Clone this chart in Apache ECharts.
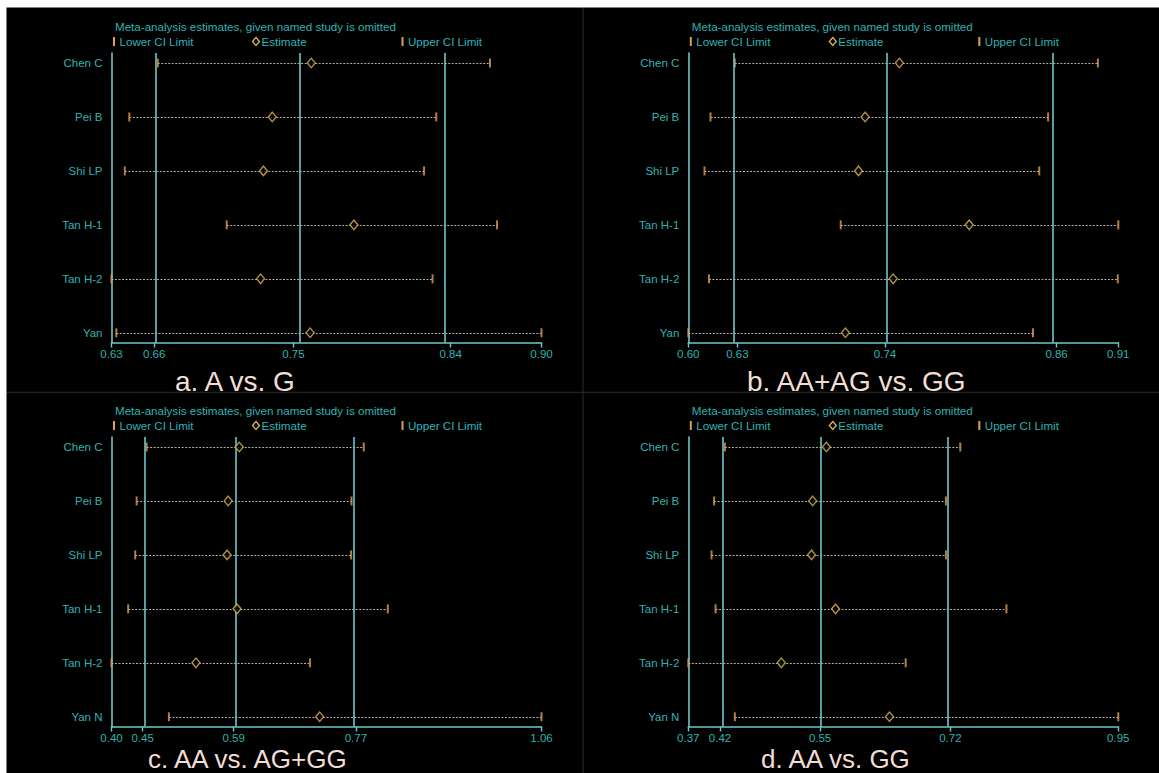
<!DOCTYPE html>
<html>
<head>
<meta charset="utf-8">
<script src="https://cdn.jsdelivr.net/npm/echarts@6/dist/echarts.min.js"></script>
<style>
  html, body { margin: 0; padding: 0; background: #000; }
  #chart { width: 1159px; height: 773px; }
</style>
</head>
<body>
<div id="chart"></div>
<script>
// Study names (rows, top to bottom)
const studiesAB = ['Chen C', 'Pei B', 'Shi LP', 'Tan H-1', 'Tan H-2', 'Yan'];
const studiesCD = ['Chen C', 'Pei B', 'Shi LP', 'Tan H-1', 'Tan H-2', 'Yan N'];

// a. A vs. G
const lowerA = [0.6613, 0.6436, 0.6408, 0.7043, 0.6325, 0.6355];
const estA   = [0.7570, 0.7327, 0.7272, 0.7836, 0.7254, 0.7563];
const upperA = [0.8684, 0.8349, 0.8273, 0.8728, 0.8326, 0.9005];
const overallA = [0.6591, 0.7459, 0.8439];   // pooled lower CI, estimate, upper CI

// b. AA+AG vs. GG
const lowerB = [0.6305, 0.6130, 0.6087, 0.7069, 0.6119, 0.5970];
const estB   = [0.7492, 0.7245, 0.7197, 0.7995, 0.7447, 0.7103];
const upperB = [0.8923, 0.8564, 0.8500, 0.9070, 0.9066, 0.8455];
const overallB = [0.6324, 0.7388, 0.8625];

// c. AA vs. AG+GG
const lowerC = [0.4533, 0.4380, 0.4358, 0.4250, 0.3995, 0.4873];
const estC   = [0.5950, 0.5780, 0.5763, 0.5916, 0.5287, 0.7180];
const upperC = [0.7855, 0.7668, 0.7662, 0.8223, 0.7033, 1.0575];
const overallC = [0.4471, 0.5865, 0.7735];

// d. AA vs. GG
const lowerD = [0.4224, 0.4080, 0.4046, 0.4100, 0.3735, 0.4357];
const estD   = [0.5581, 0.5398, 0.5383, 0.5704, 0.4979, 0.6425];
const upperD = [0.7372, 0.7180, 0.7180, 0.7989, 0.6642, 0.9485];
const overallD = [0.4159, 0.5497, 0.7239];

const captions = ['a. A vs. G', 'b. AA+AG vs. GG', 'c. AA vs. AG+GG', 'd. AA vs. GG'];
const headerText = 'Meta-analysis estimates, given named study is omitted';
const legendLabels = ['Lower CI Limit', 'Estimate', 'Upper CI Limit'];

const FONT = '"Liberation Sans", Arial, sans-serif';
const TEAL_TEXT = '#2fb2b4';
const TEAL_LINE = '#70c6c8';
const CI_ORANGE = '#dd9f52';
const EST_GOLD = '#d9b451';
const DOT_COLOR = '#c4c4b4';
const CAPTION_COLOR = '#f2ddd4';

const panels = [
  { names: studiesAB, lower: lowerA, est: estA, upper: upperA, overall: overallA,
    left: 111.5, top: 53, capX: 175, capY: 381, capSize: 28 },
  { names: studiesAB, lower: lowerB, est: estB, upper: upperB, overall: overallB,
    left: 688.3, top: 53, capX: 747, capY: 381, capSize: 28 },
  { names: studiesCD, lower: lowerC, est: estC, upper: upperC, overall: overallC,
    left: 111.5, top: 437, capX: 148, capY: 759, capSize: 26 },
  { names: studiesCD, lower: lowerD, est: estD, upper: upperD, overall: overallD,
    left: 688.3, top: 437, capX: 761, capY: 759, capSize: 26 }
];

const PLOT_W = 430;
const PLOT_H = 289.5;

const grids = [], xAxes = [], yAxes = [], series = [], graphics = [];

// page frame: light strip at top and left, thin dividers between panels
graphics.push({ type: 'rect', shape: { x: 0, y: 0, width: 1159, height: 7.5 }, style: { fill: '#ffffff' }, z: 10 });
graphics.push({ type: 'rect', shape: { x: 0, y: 0, width: 6.5, height: 773 }, style: { fill: '#ffffff' }, z: 10 });
graphics.push({ type: 'line', shape: { x1: 6.5, y1: 392.3, x2: 1159, y2: 392.3 }, style: { stroke: '#2c2c2c', lineWidth: 1 }, z: 1 });
graphics.push({ type: 'line', shape: { x1: 583, y1: 7.5, x2: 583, y2: 773 }, style: { stroke: '#2c2c2c', lineWidth: 1 }, z: 1 });

panels.forEach((p, k) => {
  const xMin = Math.min(...p.lower);
  const xMax = Math.max(...p.upper);
  const tickVals = [xMin, p.overall[0], p.overall[1], p.overall[2], xMax];
  const rows = p.names.map((_, i) => i + 1);

  grids.push({ left: p.left, top: p.top, width: PLOT_W, height: PLOT_H, containLabel: false });

  xAxes.push({
    type: 'value', gridIndex: k, min: xMin, max: xMax,
    axisLine: { show: true, lineStyle: { color: TEAL_LINE, width: 1.6 } },
    axisTick: { show: true, customValues: tickVals, length: 5, lineStyle: { color: TEAL_LINE, width: 1.4 } },
    axisLabel: {
      customValues: tickVals, margin: 5, color: TEAL_TEXT, fontFamily: FONT, fontSize: 11.5,
      lineHeight: 12, formatter: v => v.toFixed(2)
    },
    splitLine: { show: false }
  });

  yAxes.push({
    type: 'value', gridIndex: k, inverse: true, min: 0.815, max: 6.18,
    axisLine: { show: true, lineStyle: { color: TEAL_LINE, width: 1.6 } },
    axisTick: { show: false },
    axisLabel: {
      customValues: rows, margin: 9, color: TEAL_TEXT, fontFamily: FONT, fontSize: 11.5,
      formatter: v => p.names[Math.round(v) - 1]
    },
    splitLine: { show: false }
  });

  // dotted span from lower to upper limit for each omitted study
  series.push({
    type: 'lines', coordinateSystem: 'cartesian2d', xAxisIndex: k, yAxisIndex: k,
    silent: true, z: 2, animation: false,
    lineStyle: { color: DOT_COLOR, width: 1, type: [2, 1.5], opacity: 0.9 },
    data: rows.map((r, i) => ({ coords: [[p.lower[i], r], [p.upper[i], r]] })),
    // pooled estimate and its CI as full-height reference lines
    markLine: {
      silent: true, symbol: ['none', 'none'], label: { show: false },
      lineStyle: { color: TEAL_LINE, width: 1.6, type: 'solid' },
      data: p.overall.map(v => ({ xAxis: v }))
    }
  });

  // lower CI caps
  series.push({
    type: 'scatter', xAxisIndex: k, yAxisIndex: k, z: 4, animation: false, silent: true,
    symbol: 'rect', symbolSize: [2, 9],
    itemStyle: { color: CI_ORANGE },
    data: rows.map((r, i) => [p.lower[i], r])
  });
  // upper CI caps
  series.push({
    type: 'scatter', xAxisIndex: k, yAxisIndex: k, z: 4, animation: false, silent: true,
    symbol: 'rect', symbolSize: [2, 9],
    itemStyle: { color: CI_ORANGE },
    data: rows.map((r, i) => [p.upper[i], r])
  });
  // estimates as hollow diamonds
  series.push({
    type: 'scatter', xAxisIndex: k, yAxisIndex: k, z: 5, animation: false, silent: true,
    symbol: 'diamond', symbolSize: [8, 9.5],
    itemStyle: { color: '#000000', borderColor: EST_GOLD, borderWidth: 1.4 },
    data: rows.map((r, i) => [p.est[i], r])
  });

  // header and legend above each plot
  const hy = p.top - 27;
  const ly = p.top - 11.5;
  graphics.push({ type: 'text', x: p.left + 3.5, y: hy,
    style: { text: headerText, fill: TEAL_TEXT, font: '11.6px ' + FONT, verticalAlign: 'middle' } });
  graphics.push({ type: 'rect', shape: { x: p.left + 1.5, y: ly - 4.5, width: 2, height: 9 }, style: { fill: CI_ORANGE } });
  graphics.push({ type: 'text', x: p.left + 8, y: ly,
    style: { text: legendLabels[0], fill: TEAL_TEXT, font: '11.6px ' + FONT, verticalAlign: 'middle' } });
  const dx = p.left + 144.5;
  graphics.push({ type: 'polygon', shape: { points: [[dx, ly - 4], [dx + 3.5, ly], [dx, ly + 4], [dx - 3.5, ly]] },
    style: { fill: '#000', stroke: EST_GOLD, lineWidth: 1.3 } });
  graphics.push({ type: 'text', x: p.left + 150, y: ly,
    style: { text: legendLabels[1], fill: TEAL_TEXT, font: '11.6px ' + FONT, verticalAlign: 'middle' } });
  graphics.push({ type: 'rect', shape: { x: p.left + 290, y: ly - 4.5, width: 2, height: 9 }, style: { fill: CI_ORANGE } });
  graphics.push({ type: 'text', x: p.left + 296.5, y: ly,
    style: { text: legendLabels[2], fill: TEAL_TEXT, font: '11.6px ' + FONT, verticalAlign: 'middle' } });

  // panel caption
  graphics.push({ type: 'text', x: p.capX, y: p.capY,
    style: { text: captions[k], fill: CAPTION_COLOR, font: p.capSize + 'px ' + FONT, lineHeight: p.capSize, verticalAlign: 'middle' } });
});

const chart = echarts.init(document.getElementById('chart'), null, { renderer: 'svg', width: 1159, height: 773 });
chart.setOption({
  backgroundColor: '#000000',
  animation: false,
  grid: grids,
  xAxis: xAxes,
  yAxis: yAxes,
  series: series,
  graphic: graphics
});
</script>
</body>
</html>
